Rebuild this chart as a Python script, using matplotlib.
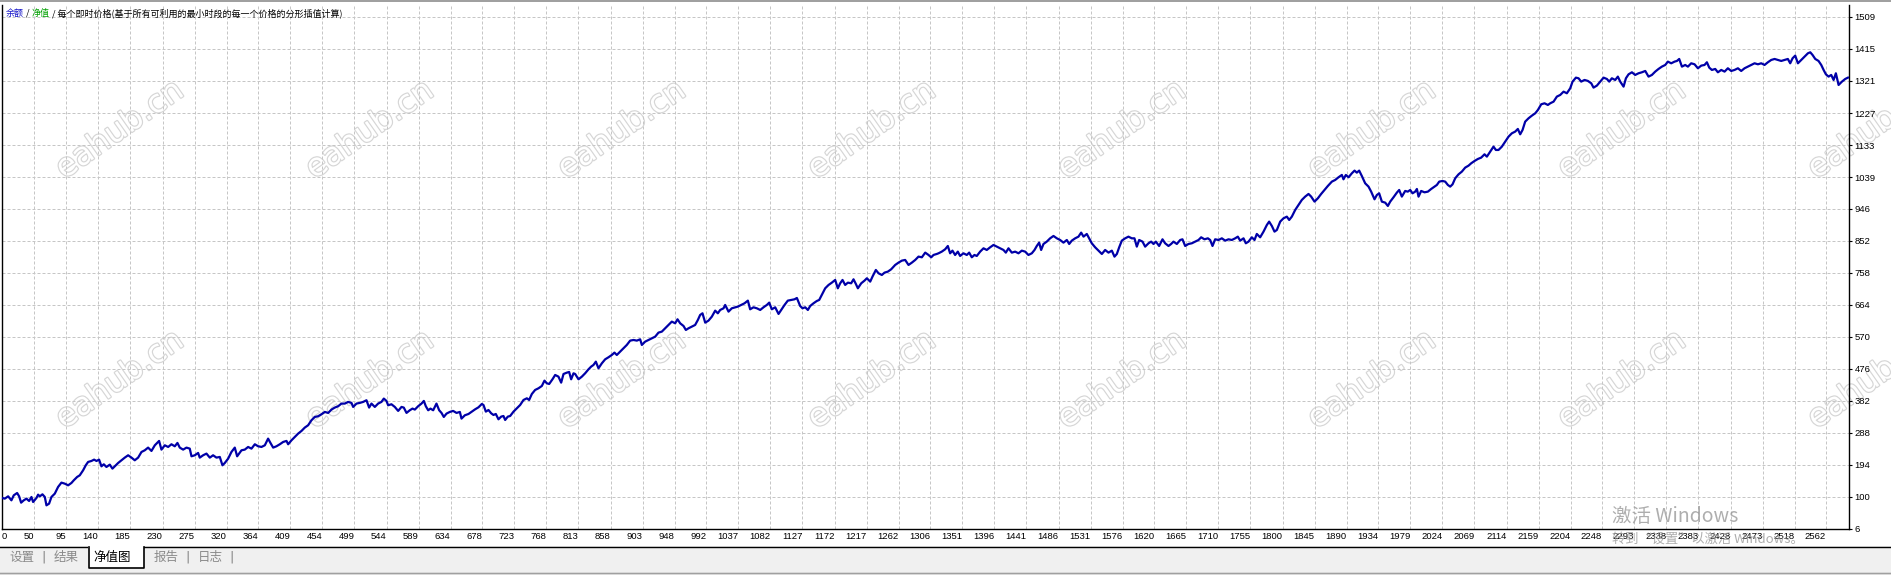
import matplotlib
matplotlib.use("Agg")
import matplotlib.pyplot as plt
import matplotlib.patheffects as pe
from matplotlib.patches import Rectangle
from matplotlib.lines import Line2D

# Etiquetas de los ejes (tal como aparecen en el gráfico)
X_TICKS = [0, 50, 95, 140, 185, 230, 275, 320, 364, 409, 454, 499, 544, 589, 634, 678,
           723, 768, 813, 858, 903, 948, 992, 1037, 1082, 1127, 1172, 1217, 1262, 1306,
           1351, 1396, 1441, 1486, 1531, 1576, 1620, 1665, 1710, 1755, 1800, 1845, 1890,
           1934, 1979, 2024, 2069, 2114, 2159, 2204, 2248, 2293, 2338, 2383, 2428, 2473,
           2518, 2562]
Y_TICKS = [6, 100, 194, 288, 382, 476, 570, 664, 758, 852, 946, 1039, 1133, 1227, 1321,
           1415, 1509]

# Curva de balance (número de operación, balance)
TRADES = [
    0, 8.9, 13.6, 18.2, 21.5, 26.2, 29.0, 31.8, 35.5, 39.3, 43.0, 46.3, 48.6, 53.3, 55.6,
    58.0, 61.7, 65.0, 67.3, 71.0, 74.3, 79.0, 83.6, 88.3, 93.0, 97.7, 102.3, 105.6, 110.3,
    114.0, 118.7, 122.4, 125.7, 130.4, 134.1, 137.4, 141.1, 144.4, 147.7, 151.4, 156.1,
    159.8, 163.1, 167.8, 172.4, 177.1, 181.8, 186.5, 191.1, 195.8, 200.5, 205.1, 209.8,
    214.5, 219.2, 225.2, 228.5, 233.2, 237.9, 242.5, 247.2, 250.9, 254.2, 258.9, 263.6,
    268.2, 270.6, 275.2, 279.9, 282.2, 286.9, 291.6, 296.3, 300.9, 305.6, 310.3, 314.0,
    317.3, 322.0, 326.6, 331.3, 334.6, 337.4, 340.7, 345.3, 350.0, 354.7, 359.4, 364.0,
    368.7, 373.4, 378.0, 381.3, 385.1, 389.7, 394.4, 399.1, 403.8, 406.1, 410.8, 415.4,
    420.1, 424.8, 429.4, 434.1, 438.8, 443.5, 448.1, 452.8, 457.5, 462.2, 466.8, 471.5,
    476.2, 480.8, 485.5, 490.2, 494.9, 497.2, 501.9, 506.5, 511.2, 515.9, 519.6, 522.9,
    527.6, 532.2, 536.9, 540.2, 543.9, 546.3, 550.9, 555.6, 560.3, 565.0, 568.2, 572.0,
    576.6, 580.4, 583.7, 588.3, 593.0, 596.3, 599.1, 602.4, 605.6, 609.4, 614.0, 617.8,
    621.1, 624.3, 628.1, 632.7, 637.4, 642.1, 646.8, 649.1, 653.8,
    658.9, 663.5, 668.2, 672.9, 677.6, 679.9, 683.2, 686.9, 690.7, 693.9, 697.2, 700.9,
    704.7, 707.9, 710.3, 714.0, 717.3, 722.0, 726.6, 731.3, 736.0, 740.7, 743.9, 747.7,
    752.3, 757.0, 761.7, 765.4, 768.7, 772.0, 776.6, 780.4, 785.0, 788.8, 792.1, 796.7,
    800.0, 802.8, 806.1, 808.4, 813.1, 817.8, 822.4, 827.1, 830.8, 834.1, 837.4, 841.1,
    845.8, 850.5, 855.1, 859.8, 863.5, 866.8, 871.5, 876.2, 880.8, 885.5, 890.2, 894.9,
    899.5, 901.9, 906.5, 911.2, 915.9, 920.6, 925.2, 929.9, 934.6, 939.3, 943.9, 948.6,
    951.9, 955.6, 960.3, 963.6, 967.3, 972.0, 976.6, 980.4, 983.6, 986.9, 990.7, 995.3,
    1000.0, 1004.7, 1008.4, 1011.7, 1016.4, 1018.7, 1023.4, 1028.0, 1032.7, 1036.4, 1041.1,
    1045.8, 1050.5, 1053.7, 1058.4, 1063.1, 1067.8, 1072.4, 1077.1, 1080.4, 1084.1, 1088.8,
    1093.5, 1097.2, 1101.9, 1106.5, 1111.2, 1115.9, 1119.2, 1123.8, 1127.1, 1130.9, 1134.6,
    1137.9, 1142.5, 1147.2, 1150.5, 1155.2, 1158.9, 1163.6, 1168.2, 1172.9, 1176.6, 1179.9,
    1183.2, 1186.9, 1190.7, 1195.3, 1198.6, 1201.9, 1204.7, 1209.4, 1214.0, 1217.3, 1222.0,
    1225.2, 1229.9, 1233.7, 1238.3, 1242.1, 1246.7, 1251.4, 1257.0, 1261.7, 1266.4, 1271.0,
    1275.7, 1280.4, 1285.1, 1289.7, 1294.4, 1299.1, 1303.7, 1307.5, 1310.8, 1315.4,
    1317.7, 1322.3, 1327.0, 1330.8, 1334.0, 1337.3, 1341.0, 1344.8, 1348.0, 1352.7, 1357.4,
    1360.7, 1364.4, 1368.1, 1371.4, 1376.1, 1380.8, 1385.4, 1390.1, 1394.8, 1399.5, 1404.1,
    1408.8, 1412.1, 1415.8, 1420.5, 1425.2, 1429.8, 1434.5, 1439.2, 1443.8, 1448.5, 1452.3,
    1455.5, 1458.8, 1461.6, 1464.9, 1469.5, 1474.2, 1478.9, 1483.6, 1488.2, 1492.9, 1497.6,
    1500.9, 1504.6, 1509.3, 1513.9, 1517.7, 1521.0, 1525.6, 1528.9, 1532.6, 1537.3, 1542.0,
    1546.7, 1551.3, 1556.0, 1560.7, 1564.4, 1567.7, 1571.0, 1574.7, 1579.4, 1584.0, 1588.7,
    1592.4, 1595.7, 1599.0, 1603.7, 1607.4, 1612.1, 1615.8, 1619.1, 1622.4, 1627.0, 1631.7,
    1635.4, 1640.1, 1643.8, 1647.1, 1651.8, 1656.5, 1659.7, 1663.5, 1668.1, 1672.8, 1677.5,
    1682.2, 1685.9, 1690.6, 1695.3, 1698.5, 1701.8, 1705.5, 1710.2, 1714.9, 1719.6, 1724.2,
    1728.9, 1733.6, 1737.3, 1740.6, 1745.3, 1748.5, 1752.3, 1756.9, 1760.7, 1763.9, 1768.6,
    1773.3, 1778.0, 1781.2, 1785.0, 1788.7, 1792.0, 1796.7, 1801.3, 1806.0, 1809.3, 1813.0,
    1817.7, 1822.4, 1827.0, 1831.7, 1836.4, 1840.1, 1844.8, 1849.5, 1854.1, 1858.8, 1863.5,
    1869.1, 1873.8, 1878.4, 1883.1, 1885.4, 1888.7, 1892.5, 1897.1, 1900.9, 1904.1, 1907.4,
    1911.1, 1915.8, 1920.5, 1924.2, 1928.9, 1932.2, 1935.4, 1939.2, 1943.9, 1947.6, 1950.9,
    1955.5, 1960.2, 1963.5, 1967.2,
    1971.9, 1975.6, 1978.9, 1982.2, 1985.9, 1988.3, 1990.6, 1994.3, 1999.0, 2003.7, 2008.3,
    2013.0, 2016.3, 2019.6, 2024.2, 2028.0, 2031.7, 2035.0, 2038.3, 2042.0, 2046.7, 2051.3,
    2056.0, 2060.7, 2064.4, 2069.1, 2073.8, 2078.4, 2083.1, 2086.4, 2091.1, 2095.7, 2099.0,
    2102.7, 2107.4, 2112.1, 2116.8, 2121.4, 2126.1, 2129.8, 2133.1, 2136.4, 2140.1, 2144.8,
    2149.5, 2154.2, 2157.9, 2162.6, 2167.2, 2171.9, 2175.2, 2179.9, 2184.5, 2189.2, 2193.9,
    2198.5, 2203.2, 2206.5, 2211.2, 2214.9, 2218.6, 2223.3, 2228.0, 2232.7, 2235.9, 2240.6,
    2245.3, 2250.0, 2254.6, 2257.9, 2261.6, 2266.3, 2270.0, 2273.3, 2278.0, 2281.3, 2285.0,
    2289.7, 2294.3, 2299.0, 2303.7, 2308.4, 2313.0, 2317.7, 2322.4, 2327.0, 2331.7, 2336.4,
    2340.1, 2344.8, 2349.5, 2352.8, 2356.0, 2359.8, 2364.4, 2368.2, 2372.8, 2377.5, 2382.2,
    2386.9, 2391.5, 2394.8, 2398.1, 2401.8, 2406.5, 2410.2, 2414.9, 2419.6, 2424.2, 2428.9,
    2433.6, 2438.3, 2442.9, 2447.6, 2452.3, 2456.9, 2461.6, 2466.3, 2471.0, 2475.6, 2480.3,
    2485.0, 2489.7, 2494.3, 2499.0, 2503.7, 2508.3, 2511.6, 2514.9, 2518.6, 2522.4, 2527.0,
    2531.7, 2536.4, 2539.7, 2542.9, 2546.7, 2551.3, 2555.1, 2558.4, 2561.6, 2565.4, 2569.1,
    2572.4, 2575.6, 2579.4, 2584.1, 2588.7, 2592.5,
]
BALANCE = [
    100, 95.1, 101.9, 90.2, 104.9, 111.7, 101.9, 83.3, 90.2, 95.1, 88.2, 100, 85.3, 97.1, 106.8,
    101.9, 107.8, 100, 75.5, 80.4, 100, 109.8, 129.4, 142.1, 139.1, 134.2, 141.1, 148.9, 158.7,
    163.6, 178.3, 193.0, 202.8, 205.7, 209.6, 205.7, 209.6, 190.0, 195.9, 188.1, 194.9,
    183.2, 190.0, 199.8, 207.7, 215.5, 222.4, 215.5, 207.7, 215.5, 232.1, 237.0, 244.9,
    235.1, 251.7, 264.5, 239.0, 251.7, 246.8, 254.7, 248.8, 258.6, 244.9, 239.0, 244.9,
    241.9, 219.4, 222.4, 229.2, 215.5, 222.4, 227.3, 215.5, 222.4, 215.5, 217.5, 193.0,
    199.8, 212.6, 232.1, 244.9, 219.4, 227.3, 237.0, 239.0, 246.8, 241.9, 254.7, 248.8,
    246.8, 251.7, 271.3, 258.6, 244.9, 248.8, 254.7, 261.5, 264.5, 254.7, 266.4, 276.2,
    286.0, 293.8, 303.6, 310.5, 325.2, 334.9, 336.9, 342.8, 349.6, 346.7, 356.5, 362.4,
    366.3, 374.1, 374.1, 379.0, 376.1, 364.3, 374.1, 376.1, 379.0, 383.9, 362.4, 374.1,
    364.3, 374.1, 379.0, 388.8, 381.9, 369.2, 372.1, 364.3, 352.6, 364.3, 362.4, 346.7,
    354.5, 359.4, 356.5, 366.3, 374.1, 381.9, 366.3, 354.5, 359.4, 354.5, 374.1, 354.5,
    346.7, 334.9, 344.7, 349.6, 352.6, 346.7, 349.6, 330.0, 339.8,
    343.6, 350.5, 357.3, 363.2, 373.0, 370.0, 350.5, 355.3, 345.6, 340.7, 343.6, 328.0,
    335.8, 337.7, 326.0, 335.8, 337.7, 350.5, 360.2, 370.0, 384.7, 389.6, 384.7, 402.3,
    414.1, 419.0, 425.8, 441.5, 433.6, 431.7, 445.4, 458.1, 453.2, 435.6, 461.0, 464.9,
    466.9, 445.4, 463.0, 461.0, 445.4, 453.2, 463.0, 474.7, 482.6, 487.5, 497.2, 477.7,
    492.3, 504.1, 510.0, 516.8, 523.7, 516.8, 526.6, 536.4, 546.2, 558.9, 560.8, 558.9,
    562.8, 546.2, 555.9, 560.8, 565.7, 570.6, 582.4, 585.3, 595.1, 604.9, 614.7, 609.8,
    621.5, 609.8, 601.9, 590.2, 595.1, 600.0, 604.9, 619.5, 634.2, 639.1, 611.7, 617.6,
    629.3, 646.9, 639.1, 648.9, 653.8, 663.6, 644.0, 653.8, 656.7, 658.7, 663.6,
    668.5, 676.3, 650.9, 656.7, 653.8, 648.9, 656.7, 663.6, 670.4, 650.9, 656.7,
    637.2, 648.9, 663.6, 676.3, 678.3, 680.2, 684.1, 660.6, 653.8, 656.7, 648.9,
    660.6, 668.5, 675.3, 678.3, 697.8, 712.5, 722.3, 729.1, 737.0, 712.5, 727.2,
    737.0, 722.3, 729.1, 727.2, 738.9, 725.2, 712.5, 727.2, 735.0, 741.9, 732.1,
    746.8, 766.3, 756.5, 751.6, 758.5, 761.4, 768.3, 781.0, 787.9, 793.7, 795.7,
    781.0, 787.9, 795.7, 805.5, 803.5, 817.2, 810.4, 803.5, 810.4, 813.3,
    815.2, 820.1, 826.9, 836.7, 815.2, 823.0, 810.3, 820.1, 807.4, 815.2, 810.3,
    817.2, 803.5, 810.3, 807.4, 820.1, 829.9, 825.0, 832.8, 839.7, 834.8, 829.9,
    825.0, 817.2, 829.9, 817.2, 820.1, 815.2, 823.0, 820.1, 810.3, 815.2, 825.0,
    836.7, 846.5, 825.0, 842.6, 849.5, 859.2, 866.1, 859.2, 854.3, 846.5, 854.3,
    842.6, 852.4, 859.2, 864.1, 875.9, 864.1, 872.0, 859.2, 844.6, 832.8, 823.0,
    813.2, 825.0, 817.2, 823.0, 805.4, 813.2, 832.8, 852.4, 859.2, 864.1, 859.2,
    859.2, 834.8, 854.3, 849.5, 834.8, 844.6, 849.5, 842.6, 849.5, 836.7, 856.3,
    844.6, 836.7, 842.6, 849.5, 842.6, 854.3, 856.3, 836.7, 842.6, 844.6, 849.5,
    854.3, 862.2, 856.3, 859.2, 854.3, 836.7, 856.3, 854.3, 859.2, 852.4, 856.3,
    854.3, 859.2, 864.1, 852.4, 859.2, 844.6, 849.5, 862.2, 854.3, 872.0, 862.2,
    878.8, 898.4, 908.2, 895.4, 878.8, 883.7, 908.2, 917.9, 922.8, 913.1, 922.8,
    942.4, 957.1, 971.8, 981.6, 989.4, 981.6, 966.9, 976.7, 989.4, 1001.1, 1012.9,
    1025.6, 1030.5, 1038.3, 1045.2, 1032.4, 1045.2, 1038.3, 1050.0, 1057.9, 1052.0, 1057.9,
    1042.2, 1020.7, 1010.9, 996.2, 973.7, 986.4, 991.3, 966.9, 963.9, 954.2, 966.9,
    979.6, 993.3, 1001.1, 981.6,
    998.2, 996.2, 1001.1, 991.3, 996.2, 1004.0, 981.5, 998.2, 994.2, 996.2, 1004.0,
    1010.9, 1015.8, 1025.6, 1027.5, 1025.6, 1015.8, 1010.9, 1017.7, 1035.4, 1047.1, 1054.9,
    1066.7, 1072.5, 1079.4, 1086.2, 1092.1, 1096.0, 1105.8, 1098.9, 1113.6, 1128.3, 1118.5,
    1118.5, 1128.3, 1143.0, 1157.7, 1167.4, 1172.4, 1180.2, 1164.5, 1177.2, 1201.7, 1211.5,
    1219.3, 1226.2, 1235.9, 1252.6, 1255.5, 1250.6, 1255.5, 1260.4, 1275.1, 1280.0, 1289.7,
    1284.9, 1299.5, 1319.1, 1330.8, 1328.9, 1319.1, 1324.0, 1321.1, 1314.2, 1301.5, 1307.4,
    1319.1, 1330.8, 1326.9, 1319.1, 1328.9, 1324.0, 1333.8, 1319.1, 1304.4, 1328.9, 1340.6,
    1346.5, 1338.7, 1343.6, 1346.5, 1350.4, 1333.8, 1338.7, 1348.5, 1356.3, 1363.1, 1368.0,
    1377.8, 1372.9, 1377.8, 1379.8, 1385.6, 1363.1, 1368.0, 1363.1, 1372.9, 1370.0, 1358.3,
    1366.1, 1368.0, 1375.9, 1360.2, 1353.4, 1356.3, 1346.5, 1353.4, 1348.5, 1358.3, 1350.4,
    1353.4, 1358.3, 1350.4, 1358.3, 1363.1, 1368.0, 1372.9, 1370.0, 1372.9, 1368.0, 1375.9,
    1382.7, 1385.6, 1382.7, 1379.8, 1382.7, 1385.6, 1372.9, 1387.6, 1395.4, 1372.9, 1382.7,
    1392.5, 1402.3, 1405.2, 1397.4, 1385.6, 1379.8, 1368.0, 1353.4, 1340.6, 1333.8, 1338.7,
    1324.0, 1343.6, 1309.3, 1319.1, 1326.9, 1330.8,
]

TABS = ["设置", "结果", "净值图", "报告", "日志"]
TAB_ACTIVO = "净值图"
LEYENDA = [("余额", "#1414c8"), (" / ", "black"), ("净值", "#00a000"),
           (" / 每个即时价格(基于所有可利用的最小时段的每一个价格的分形插值计算)", "black")]
MARCA_AGUA = "eahub.cn"

W, H = 1891, 575
CJK = ["Noto Sans CJK SC", "DejaVu Sans"]
plt.rcParams["font.family"] = ["Liberation Sans", "Noto Sans CJK SC", "DejaVu Sans"]


def fx(px):
    return px / W


def fy(py):
    return (H - py) / H


fig = plt.figure(figsize=(W / 100, H / 100), dpi=100)
fig.patch.set_facecolor("white")

# Área del gráfico
ax = fig.add_axes([fx(2), fy(529), (1849 - 2) / W, (529 - 5) / H])
ax.patch.set_alpha(0)
ax.plot(TRADES, BALANCE, color="#0000a8", lw=1.6, zorder=3)

XMIN, XMAX = 5, 2594
ax.set_xlim(XMIN, XMAX)
ax.set_ylim(6, 1544)

# El "0" se coloca en el borde izquierdo, como en el terminal
ax.set_xticks([XMIN] + X_TICKS[1:])
ax.set_xticklabels([str(v) for v in X_TICKS])
for lbl in ax.get_xticklabels():
    lbl.set_horizontalalignment("right")
ax.get_xticklabels()[0].set_horizontalalignment("left")
ax.set_yticks(Y_TICKS)
ax.set_yticklabels([str(v) for v in Y_TICKS])
ax.yaxis.tick_right()
ax.tick_params(axis="x", length=0, pad=2.5, labelsize=6.8, colors="black")
ax.tick_params(axis="y", direction="out", length=2.5, width=0.8, pad=1.5, labelsize=6.8,
               colors="black")

ax.grid(True, color="#c6c6c6", lw=0.72, linestyle=(0, (3, 2)))
ax.set_axisbelow(True)
ax.spines["top"].set_visible(False)
for s in ["left", "right", "bottom"]:
    ax.spines[s].set_color("black")
    ax.spines[s].set_linewidth(1.0)

# Leyenda de arriba a la izquierda (texto en varios colores, encadenado)
anchor = fig.text(fx(6), fy(13), LEYENDA[0][0], color=LEYENDA[0][1], fontsize=6.5,
                  family=CJK, va="center", ha="left")
for texto, color in LEYENDA[1:]:
    anchor = fig.add_artist(plt.Annotation(texto, xy=(1, 0.5), xycoords=anchor,
                                           va="center", ha="left", color=color,
                                           fontsize=6.5, family=CJK))

# Marcas de agua
for py in [130, 380]:
    for px in [120, 370, 622, 872, 1122, 1372, 1622, 1872]:
        fig.text(fx(px), fy(py), MARCA_AGUA, rotation=35, ha="center", va="center",
                 fontsize=23, family="DejaVu Sans", color="white", zorder=-1,
                 path_effects=[pe.Stroke(linewidth=1.7, foreground="#d6d6d6"), pe.Normal()])

# Línea gris superior
fig.add_artist(Rectangle((0, fy(2)), 1, 2 / H, transform=fig.transFigure,
                         facecolor="#a0a0a0", edgecolor="none", zorder=5))

# Barra de pestañas inferior
fig.add_artist(Rectangle((0, fy(572)), 1, 26 / H, transform=fig.transFigure,
                         facecolor="#f0f0f0", edgecolor="none", zorder=5))
fig.add_artist(Rectangle((0, fy(575)), 1, 3 / H, transform=fig.transFigure,
                         facecolor="#e6e6e6", edgecolor="none", zorder=5))
fig.add_artist(Line2D([0, 1], [fy(572.5), fy(572.5)], transform=fig.transFigure,
                      color="#a0a0a0", lw=1.0, zorder=6))
fig.add_artist(Line2D([0, 1], [fy(546.5), fy(546.5)], transform=fig.transFigure,
                      color="black", lw=1.0, zorder=6))
# Pestaña activa
fig.add_artist(Rectangle((fx(88), fy(568)), 56 / W, 22 / H, transform=fig.transFigure,
                         facecolor="white", edgecolor="none", zorder=7))
fig.add_artist(Line2D([fx(88.5), fx(88.5), fx(144), fx(144)],
                      [fy(546.5), fy(568), fy(568), fy(546.5)], transform=fig.transFigure,
                      color="black", lw=1.2, zorder=8))

tab_x = [22, 66, 112, 166, 210]
for nombre, px in zip(TABS, tab_x):
    activo = nombre == TAB_ACTIVO
    fig.text(fx(px), fy(557), nombre, ha="center", va="center", fontsize=9, family=CJK,
             color="black" if activo else "#8a8a8a", zorder=9)
for px in [44, 188, 232]:
    fig.text(fx(px), fy(557), "|", ha="center", va="center", fontsize=9.5,
             family="DejaVu Sans", color="#8a8a8a", zorder=9)

# Aviso de activación de Windows
fig.text(fx(1612), fy(516), "激活 Windows", ha="left", va="center", fontsize=14,
         family=CJK, color="#9a9a9a", alpha=0.8, zorder=20)
fig.text(fx(1612), fy(539), "转到“设置”以激活 Windows。", ha="left", va="center",
         fontsize=9.5, family=CJK, color="#9a9a9a", alpha=0.8, zorder=20)

fig.savefig("out.png", dpi=100, facecolor="white")
